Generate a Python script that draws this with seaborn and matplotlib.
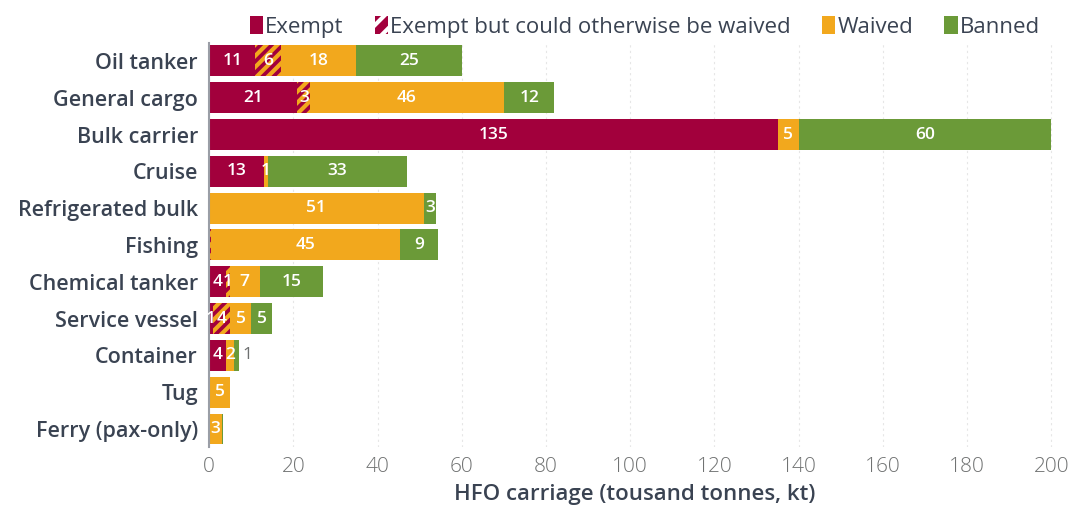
import numpy as np
import pandas as pd
import matplotlib
matplotlib.use("Agg")
import matplotlib.pyplot as plt
import seaborn as sns
from matplotlib.patches import Patch

categories = ["Oil tanker", "General cargo", "Bulk carrier", "Cruise", "Refrigerated bulk",
              "Fishing", "Chemical tanker", "Service vessel", "Container", "Tug", "Ferry (pax-only)"]
exempt = [11, 21, 135, 13, 0, 0, 4, 1, 4, 0, 0]
exempt_waivable = [6, 3, 0, 0, 0, 0.4, 1, 4, 0, 0, 0]
waived = [18, 46, 5, 1, 51, 45, 7, 5, 2, 5, 3]
banned = [25, 12, 60, 33, 3, 9, 15, 5, 1, 0, 0.3]

series_names = ["Exempt", "Exempt but could otherwise be waived", "Waived", "Banned"]
colors = ["#A2003C", "#A2003C", "#F2A81D", "#6B9A38"]

sns.set_theme(style="white")
plt.rcParams["font.family"] = ["Open Sans", "DejaVu Sans"]
plt.rcParams["hatch.linewidth"] = 3.0

df = pd.DataFrame({"cat": categories, "exempt": exempt, "ew": exempt_waivable,
                   "waived": waived, "banned": banned})
vals = df[["exempt", "ew", "waived", "banned"]].to_numpy(dtype=float)
cum = np.cumsum(vals, axis=1)

fig = plt.figure(figsize=(10.73, 5.08), dpi=100)
ax = fig.add_axes([0.1948, 0.1193, 0.793, 0.797])

# stacked bars: draw cumulative totals from right-most segment to left-most
plot_df = df.copy()
for j in [3, 2, 1, 0]:
    plot_df["v"] = cum[:, j]
    kw = dict(color=colors[j], linewidth=0, width=0.84, ax=ax, orient="h", saturation=1)
    if j == 1:
        kw.update(hatch="///", edgecolor="#F2A81D")
    sns.barplot(data=plot_df, x="v", y="cat", order=categories, **kw)

for p in ax.patches:
    if p.get_hatch():
        p.set_edgecolor("#F2A81D")
        p.set_linewidth(0)

# value labels
for i in range(len(categories)):
    for j in range(4):
        v = vals[i, j]
        if v < 0.95:
            continue
        start = cum[i, j] - v
        if v < 1.5 and j == 3:
            ax.text(cum[i, j] + 1.0, i, f"{v:g}", ha="left", va="center",
                    color="#6E7070", fontsize=12.5)
        else:
            ax.text(start + v / 2, i, f"{v:g}", ha="center", va="center",
                    color="white", fontsize=12.5, fontweight="semibold")

ax.set_xlim(0, 202)
ax.set_ylim(10.5, -0.5)
ax.set_xticks(np.arange(0, 201, 20))
ax.tick_params(axis="x", labelsize=15, colors="#707272", length=0, pad=7)
ax.tick_params(axis="y", labelsize=15.5, colors="#3A4352", length=0, pad=8)
for lbl in ax.get_yticklabels():
    lbl.set_fontweight("semibold")
for lbl in ax.get_xticklabels():
    lbl.set_fontweight("light")
ax.set_ylabel("")
ax.set_xlabel("HFO carriage (tousand tonnes, kt)", fontsize=16, color="#3A4352",
              fontweight="semibold", labelpad=5)
for s in ["top", "right", "bottom"]:
    ax.spines[s].set_visible(False)
ax.spines["left"].set_color("#9A9EA6")
ax.spines["left"].set_linewidth(1.5)
ax.xaxis.grid(True, linestyle=(0, (2, 3)), color="#E6E6E6", linewidth=0.8)
ax.set_axisbelow(True)

handles = [Patch(facecolor=colors[0], linewidth=0),
           Patch(facecolor=colors[1], hatch="//", edgecolor="white", linewidth=0),
           Patch(facecolor=colors[2], linewidth=0),
           Patch(facecolor=colors[3], linewidth=0)]
fig.legend(handles, series_names, loc="upper right", bbox_to_anchor=(0.988, 1.008),
           ncol=4, frameon=False, fontsize=16, handlelength=0.6, handleheight=0.9,
           handletextpad=0.1, columnspacing=1.4, labelcolor="#3A4352")

fig.savefig("out.png", dpi=100)
